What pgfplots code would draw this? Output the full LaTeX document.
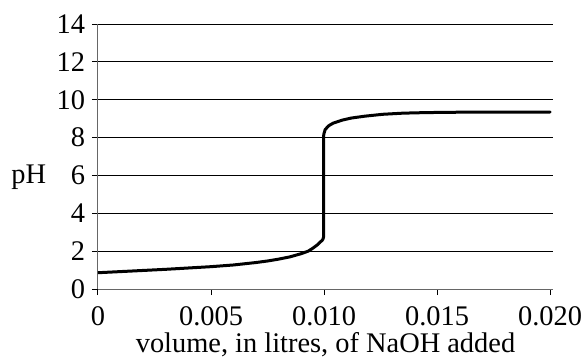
\documentclass[border=0pt]{standalone}
\usepackage{pgfplots}
\pgfplotsset{compat=1.18}
\usepackage{fontspec}
\setmainfont{Liberation Serif}
\begin{document}
\begin{tikzpicture}[font=\fontsize{14.2bp}{17bp}\selectfont]
\useasboundingbox (-49bp,-34.5bp) rectangle (244.5bp,144.5bp);
\begin{axis}[
  at={(0,0)}, anchor=south west,
  scale only axis,
  width=227.5bp, height=132.5bp,
  xmin=0, xmax=0.02013, ymin=0, ymax=14,
  axis x line*=bottom, axis y line*=left,
  axis line style={draw=gray!80!black, line width=0.5bp, -},
  xtick={0,0.005,0.010,0.015,0.020},
  xticklabels={0,0.005,0.010,0.015,0.020},
  xticklabel style={yshift=-2.5bp},
  ytick={0,2,...,14},
  tick align=outside,
  major tick length=3bp,
  tick style={black, line width=0.5bp},
  ymajorgrids,
  major grid style={black, line width=0.5bp},
  /pgf/number format/assume math mode=true,
  scaled x ticks=false,
  xlabel={volume, in litres, of NaOH added},
  xlabel style={at={(axis description cs:0.5,-0.238)}, anchor=base},
  ylabel={pH},
  ylabel style={rotate=-90, at={(axis description cs:-0.152,0.4226)}, anchor=center},
]
\addplot[black, line width=1.5bp, line join=round, line cap=round] coordinates {
(0,0.86) (0.001,0.92) (0.002,0.98) (0.003,1.04) (0.004,1.11) (0.005,1.18)
(0.006,1.27) (0.007,1.40) (0.0075,1.48) (0.008,1.58) (0.0085,1.70)
(0.009,1.87) (0.0093,2.0) (0.0095,2.15) (0.0097,2.33) (0.0098,2.45)
(0.0099,2.55) (0.00995,2.62) (0.00998,2.75) (0.00998,8.0) (0.00999,8.18)
(0.01005,8.42) (0.0102,8.62) (0.0104,8.76) (0.0108,8.92) (0.0112,9.03)
(0.0118,9.13) (0.0126,9.23) (0.0135,9.29) (0.0145,9.32) (0.016,9.34)
(0.018,9.35) (0.020,9.35)
};
\end{axis}
\end{tikzpicture}
\end{document}
